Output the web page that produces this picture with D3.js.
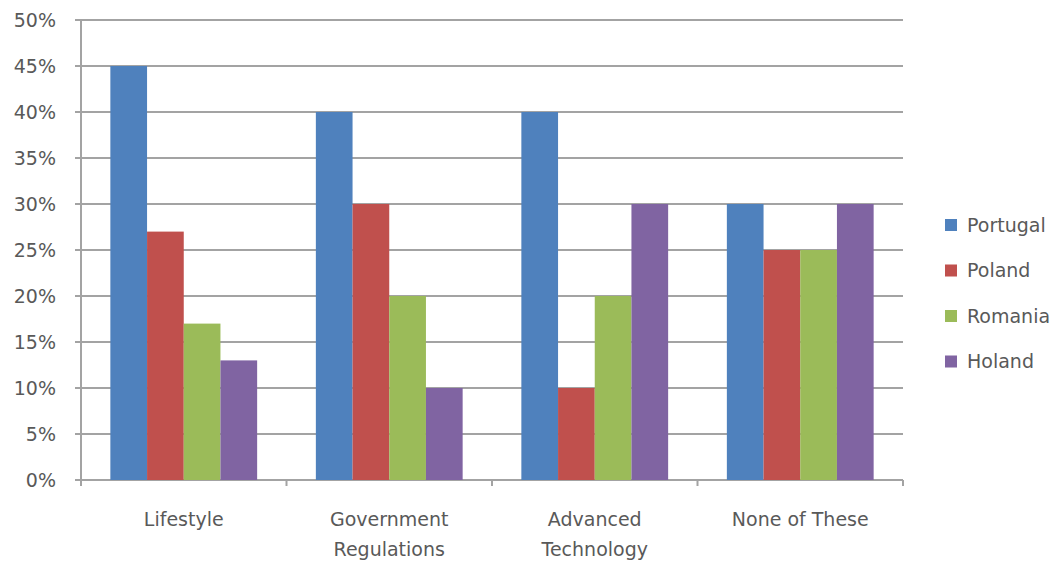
<!DOCTYPE html>
<html>
<head>
<meta charset="utf-8">
<script src="https://cdn.jsdelivr.net/npm/d3@7"></script>
<style>
  body { margin: 0; background: #fff; }
  text { font-family: "DejaVu Sans", sans-serif; fill: #595959; }
</style>
</head>
<body>
<div id="chart"></div>
<script>
// chart data
const categories = ["Lifestyle", "Government Regulations", "Advanced Technology", "None of These"];
const countries = ["Portugal", "Poland", "Romania", "Holand"];
const portugal = [45, 40, 40, 30];
const poland = [27, 30, 10, 25];
const romania = [17, 20, 20, 25];
const holand = [13, 10, 30, 30];
const yTicks = [0, 5, 10, 15, 20, 25, 30, 35, 40, 45, 50];
const colors = ["#4F81BD", "#C0504D", "#9BBB59", "#8064A2"];

const series = [portugal, poland, romania, holand];

var margin = { top: 20, right: 161, bottom: 83, left: 81 },
    width = 1064 - margin.left - margin.right,
    height = 563 - margin.top - margin.bottom;

var svg = d3.select("#chart")
    .append("svg")
    .attr("width", 1064)
    .attr("height", 563)
    .append("g")
    .attr("transform", "translate(" + margin.left + "," + margin.top + ")");

var x = d3.scaleBand()
    .domain(categories)
    .range([0, width])
    .paddingInner(0)
    .paddingOuter(0);

var x1 = d3.scaleBand()
    .domain(countries)
    .range([0, x.bandwidth()])
    .paddingInner(0)
    .paddingOuter(0.8);

var y = d3.scaleLinear()
    .domain([0, 50])
    .range([height, 0]);

// gridlines
svg.append("g")
    .selectAll("line")
    .data(yTicks)
    .enter()
    .append("line")
    .attr("x1", -6)
    .attr("x2", width)
    .attr("y1", d => y(d))
    .attr("y2", d => y(d))
    .attr("stroke", "#a3a3a3")
    .attr("stroke-width", 2);

// y labels
svg.append("g")
    .selectAll("text")
    .data(yTicks)
    .enter()
    .append("text")
    .attr("x", -25)
    .attr("y", d => y(d))
    .attr("dy", "0.36em")
    .attr("text-anchor", "end")
    .style("font-size", "19px")
    .text(d => d + "%");

// bars
categories.forEach((c, ci) => {
    svg.append("g")
        .selectAll("rect")
        .data(countries)
        .enter()
        .append("rect")
        .attr("x", (d) => x(c) + x1(d))
        .attr("y", (d, i) => y(series[i][ci]))
        .attr("width", x1.bandwidth())
        .attr("height", (d, i) => height - y(series[i][ci]))
        .attr("fill", (d, i) => colors[i]);
});

// axes lines
svg.append("line")
    .attr("x1", 0).attr("x2", 0)
    .attr("y1", 0).attr("y2", height)
    .attr("stroke", "#a3a3a3").attr("stroke-width", 2);

svg.append("g")
    .selectAll("line")
    .data(d3.range(categories.length + 1))
    .enter()
    .append("line")
    .attr("x1", d => d * x.bandwidth())
    .attr("x2", d => d * x.bandwidth())
    .attr("y1", height)
    .attr("y2", height + 6)
    .attr("stroke", "#a3a3a3").attr("stroke-width", 2);

// category labels (wrapped)
const labelLines = {
    "Lifestyle": ["Lifestyle"],
    "Government Regulations": ["Government", "Regulations"],
    "Advanced Technology": ["Advanced", "Technology"],
    "None of These": ["None of These"]
};
categories.forEach(c => {
    var t = svg.append("text")
        .attr("x", x(c) + x.bandwidth() / 2)
        .attr("y", height + 46)
        .attr("text-anchor", "middle")
        .style("font-size", "19px");
    labelLines[c].forEach((line, i) => {
        t.append("tspan")
            .attr("x", x(c) + x.bandwidth() / 2)
            .attr("dy", i == 0 ? 0 : 30)
            .text(line);
    });
});

// legend
var legend = svg.append("g")
    .attr("transform", "translate(" + (width + 42) + "," + 205 + ")");
countries.forEach((name, i) => {
    var g = legend.append("g").attr("transform", "translate(0," + (i * 45.5) + ")");
    g.append("rect")
        .attr("x", 0).attr("y", -6)
        .attr("width", 12).attr("height", 12)
        .attr("fill", colors[i]);
    g.append("text")
        .attr("x", 22).attr("y", 0)
        .attr("dy", "0.36em")
        .style("font-size", "19px")
        .text(name);
});
</script>
</body>
</html>
